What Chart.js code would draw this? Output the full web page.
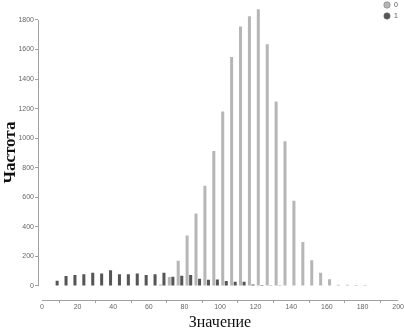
<!DOCTYPE html>
<html>
<head>
<meta charset="utf-8">
<script src="https://cdn.jsdelivr.net/npm/chart.js@4/dist/chart.umd.min.js"></script>
<style>
  body { margin: 0; background: #fff; }
  #wrap { width: 404px; height: 333px; }
</style>
</head>
<body>
<div id="wrap"><canvas id="chart" width="404" height="333"></canvas></div>
<script>
// Данные гистограммы: начало корзины (шаг 5) и частоты для групп 0 и 1
const binWidth = 5
const binStarts = [0, 5, 10, 15, 20, 25, 30, 35, 40, 45, 50, 55, 60, 65, 70, 75, 80, 85, 90,
  95, 100, 105, 110, 115, 120, 125, 130, 135, 140, 145, 150, 155, 160, 165, 170, 175, 180]
const counts0 = [null, null, null, null, null, null, null, null, null, null, null, null, null, 10, 60, 170, 342, 490, 678,
  913, 1181, 1550, 1756, 1825, 1873, 1635, 1248, 980, 577, 297, 174, 90, 45, 8, 8, 6, 6]
const counts1 = [null, 35, 67, 74, 80, 89, 85, 107, 80, 80, 85, 74, 80, 89, 62, 69, 74, 48, 42,
  43, 33, 28, 28, 10, 6, 4, 2, null, null, null, null, null, null, null, null, null, null]
const seriesLabels = ['0', '1']
const yTicks = [0, 200, 400, 600, 800, 1000, 1200, 1400, 1600, 1800]
const xTicks = [0, 20, 40, 60, 80, 100, 120, 140, 160, 180, 200]

const axisColor = '#a0a0a0'
const tickFont = { family: 'Liberation Sans', size: 7 }

const toPoints = (vals) => binStarts.map((s, i) => ({ x: s + binWidth / 2, y: vals[i] }))

// Линии осей, разнесённые как в seaborn (offset spines)
const spines = {
  id: 'spines',
  afterDraw(chart) {
    const { ctx, scales: { x, y } } = chart
    ctx.save()
    ctx.strokeStyle = axisColor
    ctx.lineWidth = 1
    ctx.beginPath()
    const yx = Math.round(x.left) + 0.5
    ctx.moveTo(yx, y.getPixelForValue(yTicks[0]))
    ctx.lineTo(yx, y.getPixelForValue(yTicks[yTicks.length - 1]))
    const xy = Math.round(y.bottom) + 0.5
    ctx.moveTo(x.getPixelForValue(xTicks[0]), xy)
    ctx.lineTo(x.getPixelForValue(xTicks[xTicks.length - 1]), xy)
    ctx.stroke()
    ctx.restore()
  }
}

// Легенда в правом верхнем углу
const cornerLegend = {
  id: 'cornerLegend',
  afterDraw(chart) {
    const { ctx } = chart
    ctx.save()
    ctx.font = '7px "Liberation Sans"'
    ctx.textBaseline = 'middle'
    chart.data.datasets.forEach((ds, i) => {
      const cy = 5 + i * 11
      ctx.beginPath()
      ctx.arc(387, cy, 3.2, 0, Math.PI * 2)
      ctx.fillStyle = ds.backgroundColor
      ctx.fill()
      ctx.strokeStyle = '#777'
      ctx.lineWidth = 0.6
      ctx.stroke()
      ctx.fillStyle = '#555'
      ctx.fillText(ds.label, 394, cy)
    })
    ctx.restore()
  }
}

new Chart(document.getElementById('chart'), {
  type: 'bar',
  data: {
    datasets: [
      { label: seriesLabels[0], data: toPoints(counts0), backgroundColor: '#b6b6b6' },
      { label: seriesLabels[1], data: toPoints(counts1), backgroundColor: '#555555' }
    ]
  },
  options: {
    responsive: false,
    animation: false,
    layout: { padding: { top: 3, right: 2, left: 0, bottom: 0 }, autoPadding: false },
    categoryPercentage: 0.8,
    barPercentage: 0.85,
    plugins: { legend: { display: false }, tooltip: { enabled: false } },
    scales: {
      x: {
        type: 'linear',
        offset: false,
        min: -2.25,
        max: 202.2,
        afterBuildTicks: (s) => { s.ticks = xTicks.map(v => ({ value: v })) },
        afterFit: (s) => { s.height = 33 },
        border: { display: false },
        grid: { drawOnChartArea: false, drawTicks: true, tickLength: 3, color: axisColor },
        ticks: { font: tickFont, color: '#666', padding: 0, maxRotation: 0, autoSkip: false,
          callback: (v) => String(v) },
        title: {
          display: true,
          text: 'Значение',
          font: { family: 'Liberation Serif', size: 16 },
          color: '#111',
          padding: { top: 0, bottom: 1 }
        }
      },
      y: {
        min: -95,
        max: 1900,
        afterBuildTicks: (s) => { s.ticks = yTicks.map(v => ({ value: v })) },
        afterFit: (s) => { s.width = 38 },
        border: { display: false },
        grid: { drawOnChartArea: false, drawTicks: true, tickLength: 3, color: axisColor },
        ticks: { font: tickFont, color: '#666', padding: 1, autoSkip: false,
          callback: (v) => String(v) },
        title: {
          display: true,
          text: 'Частота',
          font: { family: 'Liberation Serif', size: 17, weight: 'bold' },
          color: '#111',
          padding: 0
        }
      }
    }
  },
  plugins: [spines, cornerLegend]
})
</script>
</body>
</html>
